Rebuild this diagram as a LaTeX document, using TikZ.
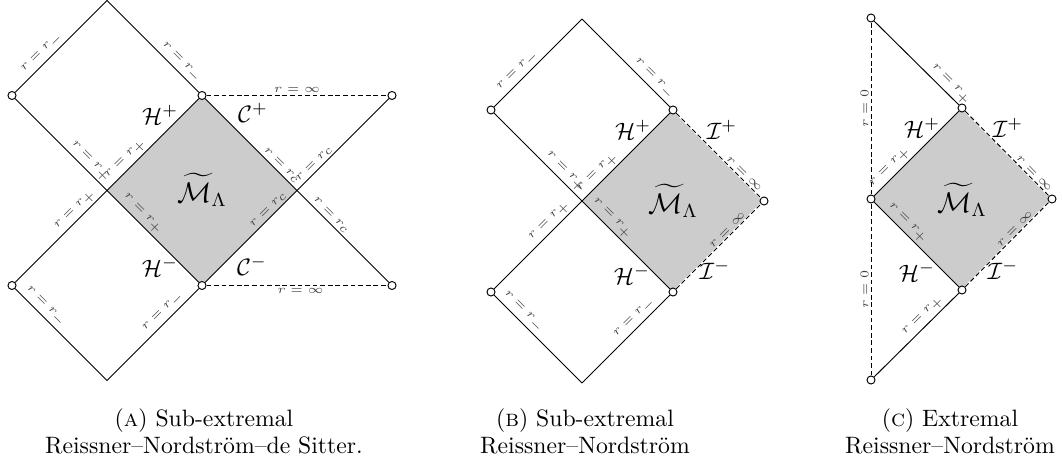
\documentclass[tikz,border=0pt]{standalone}
\usepackage{amsmath}
\usetikzlibrary{backgrounds}
\begin{document}
\begin{tikzpicture}[x=0.4219pt,y=-0.4219pt,
  line width=0.4pt,
  pt/.style={circle,draw,fill=white,inner sep=0pt,minimum size=3.4pt,line width=0.4pt},
  lab/.style={font=\tiny,text=black!75,sloped,above,inner sep=0.9pt},
  labb/.style={font=\tiny,text=black!75,sloped,below,inner sep=0.9pt},
  dsh/.style={dash pattern=on 2pt off 1.2pt},
  under/.style={white,line width=0.8pt},
  region/.style={fill=gray!40},
  bnd/.style={font=\normalsize},
  big/.style={font=\large},
  captxt/.style={anchor=base,font=\normalsize}]
\useasboundingbox (0,0) rectangle (1062,463);

%% ---------------- Panel A ----------------
\coordinate (aT) at (107,0.5);
\coordinate (aXL) at (107,190.5);
\coordinate (aXR) at (297,190.5);
\coordinate (aB) at (107,380.5);
\node[pt] (aL1) at (12,95.5) {};
\node[pt] (aUM) at (202,95.5) {};
\node[pt] (aR1) at (392,95.5) {};
\node[pt] (aL2) at (12,285.5) {};
\node[pt] (aLM) at (202,285.5) {};
\node[pt] (aR2) at (392,285.5) {};
\begin{pgfonlayer}{background}
\fill[region] (aUM.center) -- (aXL) -- (aLM.center) -- (aXR) -- cycle;
\end{pgfonlayer}
\draw (aL1) -- node[lab,pos=0.36] (aLa) {$r=r_-$} (aT);
\draw (aT) -- node[lab,pos=0.74] (aLb) {$r=r_-$} (aUM);
\draw (aL1) -- node[lab,pos=0.75] (aLc) {$r=r_+$} (aXL);
\draw (aXL) -- node[lab,pos=0.32] (aLd) {$r=r_+$} (aLM);
\draw (aXL) -- node[lab,pos=0.27] (aLe) {$r=r_+$} (aUM);
\draw (aL2) -- node[lab,pos=0.72] (aLf) {$r=r_+$} (aXL);
\draw (aL2) -- node[lab,pos=0.26] (aLg) {$r=r_-$} (aB);
\draw (aB) -- node[lab,pos=0.68] (aLh) {$r=r_-$} (aLM);
\draw (aUM) -- node[lab,pos=0.78] (aLi) {$r=r_c$} (aXR);
\draw (aXR) -- node[lab,pos=0.32] (aLj) {$r=r_c$} (aR2);
\draw (aLM) -- node[lab,pos=0.74] (aLk) {$r=r_c$} (aXR);
\draw (aXR) -- node[lab,pos=0.24] (aLl) {$r=r_c$} (aR1);
\draw[dsh] (aUM) -- node[lab,pos=0.5] (aLm) {$r=\infty$} (aR1);
\draw[dsh] (aLM) -- node[labb,pos=0.52] (aLn) {$r=\infty$} (aR2);
\node[bnd] (aHp) at (160,115) {$\mathcal{H}^+$};
\node[bnd] (aCp) at (253,113) {$\mathcal{C}^+$};
\node[bnd] (aHm) at (160,267) {$\mathcal{H}^-$};
\node[bnd] (aCm) at (252,266) {$\mathcal{C}^-$};
\node[big] (aM) at (202,190) {$\widetilde{\mathcal{M}}_\Lambda$};
\node[captxt] (aCap1) at (204,426) {(\textsc{a}) Sub-extremal};
\node[captxt] (aCap2) at (204,453) {Reissner--Nordstr\"om--de Sitter.};

%% ---------------- Panel B ----------------
\coordinate (bT) at (582,19);
\coordinate (bX) at (582,201);
\coordinate (bB) at (582,383);
\node[pt] (bL1) at (491,110) {};
\node[pt] (bUM) at (673,110) {};
\node[pt] (bR) at (764,201) {};
\node[pt] (bLM) at (673,292) {};
\node[pt] (bL2) at (491,292) {};
\begin{pgfonlayer}{background}
\fill[region] (bUM.center) -- (bX) -- (bLM.center) -- (bR.center) -- cycle;
\end{pgfonlayer}
\draw (bL1) -- node[lab,pos=0.34] (bLa) {$r=r_-$} (bT);
\draw (bT) -- node[lab,pos=0.75] (bLb) {$r=r_-$} (bUM);
\draw (bL1) -- node[lab,pos=0.74] (bLc) {$r=r_+$} (bX);
\draw (bX) -- node[lab,pos=0.25] (bLd) {$r=r_+$} (bUM);
\draw (bL2) -- node[lab,pos=0.70] (bLe) {$r=r_+$} (bX);
\draw (bX) -- node[lab,pos=0.27] (bLf) {$r=r_+$} (bLM);
\draw (bL2) -- node[lab,pos=0.26] (bLg) {$r=r_-$} (bB);
\draw (bB) -- node[lab,pos=0.67] (bLh) {$r=r_-$} (bLM);
\draw[under] (bUM) -- (bR);
\draw[under] (bLM) -- (bR);
\draw[dsh] (bUM) -- node[lab,pos=0.76] (bLi) {$r=\infty$} (bR);
\draw[dsh] (bLM) -- node[lab,pos=0.65] (bLj) {$r=\infty$} (bR);
\node[bnd] (bHp) at (633,130) {$\mathcal{H}^+$};
\node[bnd] (bIp) at (722,130) {$\mathcal{I}^+$};
\node[bnd] (bHm) at (632,275) {$\mathcal{H}^-$};
\node[bnd] (bIm) at (715,270) {$\mathcal{I}^-$};
\node[big] (bM) at (673,201) {$\widetilde{\mathcal{M}}_\Lambda$};
\node[captxt] (bCap1) at (585,426) {(\textsc{b}) Sub-extremal};
\node[captxt] (bCap2) at (585,453) {Reissner--Nordstr\"om};

%% ---------------- Panel C ----------------
\node[pt] (cT) at (871,18) {};
\node[pt] (cUM) at (962,108) {};
\node[pt] (cL) at (871,199) {};
\node[pt] (cR) at (1052,199) {};
\node[pt] (cLM) at (962,290) {};
\node[pt] (cB) at (871,380) {};
\begin{pgfonlayer}{background}
\fill[region] (cUM.center) -- (cL.center) -- (cLM.center) -- (cR.center) -- cycle;
\end{pgfonlayer}
\draw (cT) -- node[lab,pos=0.83] (cLa) {$r=r_+$} (cUM);
\draw[dsh] (cL) -- node[lab,pos=0.5] (cLb) {$r=0$} (cT);
\draw[dsh] (cB) -- node[lab,pos=0.5] (cLc) {$r=0$} (cL);
\draw (cL) -- node[lab,pos=0.26] (cLd) {$r=r_+$} (cUM);
\draw (cL) -- node[lab,pos=0.32] (cLe) {$r=r_+$} (cLM);
\draw (cB) -- node[lab,pos=0.65] (cLf) {$r=r_+$} (cLM);
\draw[under] (cUM) -- (cR);
\draw[under] (cLM) -- (cR);
\draw[dsh] (cUM) -- node[lab,pos=0.78] (cLg) {$r=\infty$} (cR);
\draw[dsh] (cLM) -- node[lab,pos=0.64] (cLh) {$r=\infty$} (cR);
\node[bnd] (cHp) at (922,128) {$\mathcal{H}^+$};
\node[bnd] (cIp) at (1008,128) {$\mathcal{I}^+$};
\node[bnd] (cHm) at (917,272) {$\mathcal{H}^-$};
\node[bnd] (cIm) at (1003,270) {$\mathcal{I}^-$};
\node[big] (cM) at (962,200) {$\widetilde{\mathcal{M}}_\Lambda$};
\node[captxt] (cCap1) at (950,426) {(\textsc{c}) Extremal};
\node[captxt] (cCap2) at (950,453) {Reissner--Nordstr\"om};
\end{tikzpicture}
\end{document}
